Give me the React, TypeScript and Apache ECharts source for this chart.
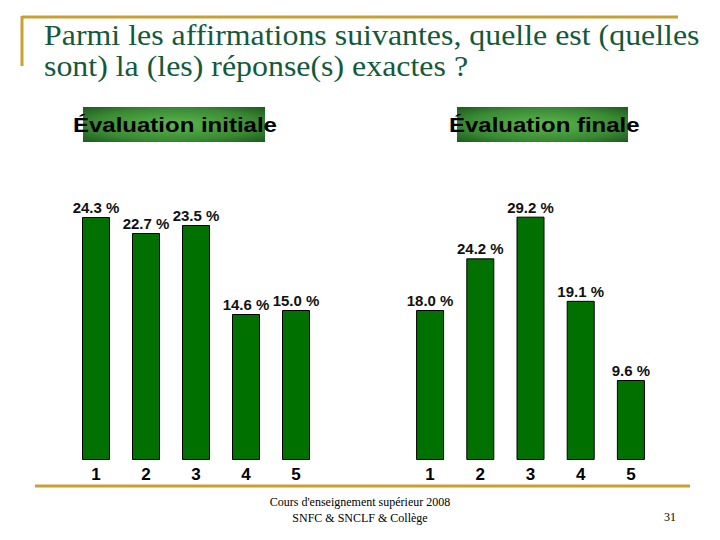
import React, { useEffect, useRef } from "react";
import * as echarts from "echarts";

const categories = ["1", "2", "3", "4", "5"];
const initialValues = [24.3, 22.7, 23.5, 14.6, 15.0];
const finalValues = [18.0, 24.2, 29.2, 19.1, 9.6];
const titleLines = [
  "Parmi les affirmations suivantes, quelle est (quelles",
  "sont) la (les) réponse(s) exactes ?",
];
const panelTitles = ["Évaluation initiale", "Évaluation finale"];
const footerLines = ["Cours d'enseignement supérieur 2008", "SNFC & SNCLF & Collège"];
const pageNumber = "31";

const GOLD = "#c9a032";
const TITLE_GREEN = "#145a3a";
const BAR_GREEN = "#007000";
const SANS = "Arial, 'Liberation Sans', sans-serif";
const SERIF = "'Times New Roman', 'Liberation Serif', serif";

const headerGradient = {
  type: "radial",
  x: 0.5,
  y: 0.5,
  r: 0.75,
  colorStops: [
    { offset: 0, color: "#5cb84c" },
    { offset: 0.6, color: "#3a8a34" },
    { offset: 1, color: "#17501a" },
  ],
};

export default function App() {
  const ref = useRef<HTMLDivElement>(null);
  useEffect(() => {
    if (!ref.current) return;
    const chart = echarts.init(ref.current, null, { renderer: "svg" });
    const label = {
      show: true,
      position: "top",
      distance: 2,
      color: "#111",
      fontFamily: SANS,
      fontWeight: "bold",
      fontSize: 15,
      formatter: (p: any) => `${Number(p.value).toFixed(1)} %`,
    };
    const xAxisCommon = {
      type: "category",
      data: categories,
      axisLine: { show: false },
      axisTick: { show: false },
      axisLabel: { color: "#000", fontFamily: SANS, fontWeight: "bold", fontSize: 17, margin: 6 },
    };
    const yAxisCommon = {
      type: "value",
      min: 0,
      show: false,
      splitLine: { show: false },
    };
    chart.setOption({
      animation: false,
      backgroundColor: "#fff",
      grid: [
        { left: 71, width: 250, top: 160, height: 300 },
        { left: 405, width: 251, top: 160, height: 300 },
      ],
      xAxis: [
        { ...xAxisCommon, gridIndex: 0 },
        { ...xAxisCommon, gridIndex: 1 },
      ],
      yAxis: [
        { ...yAxisCommon, gridIndex: 0, max: 30 },
        { ...yAxisCommon, gridIndex: 1, max: 36 },
      ],
      series: [
        {
          type: "bar",
          xAxisIndex: 0,
          yAxisIndex: 0,
          data: initialValues,
          barWidth: 28,
          itemStyle: { color: BAR_GREEN, borderColor: "#000", borderWidth: 1 },
          label,
        },
        {
          type: "bar",
          xAxisIndex: 1,
          yAxisIndex: 1,
          data: finalValues,
          barWidth: 28,
          itemStyle: { color: BAR_GREEN, borderColor: "#000", borderWidth: 1 },
          label,
        },
      ],
      graphic: [
        { type: "line", shape: { x1: 22, y1: 17, x2: 678, y2: 17 }, style: { stroke: GOLD, lineWidth: 3 } },
        { type: "line", shape: { x1: 22, y1: 16, x2: 22, y2: 66 }, style: { stroke: GOLD, lineWidth: 3 } },
        { type: "line", shape: { x1: 35, y1: 486, x2: 690, y2: 486 }, style: { stroke: GOLD, lineWidth: 3 } },
        {
          type: "text",
          x: 44,
          y: 35,
          scaleX: 1.1,
          style: { text: titleLines[0], fill: TITLE_GREEN, font: `29px ${SERIF}`, textVerticalAlign: "middle" },
        },
        {
          type: "text",
          x: 44,
          y: 66,
          scaleX: 1.1,
          style: { text: titleLines[1], fill: TITLE_GREEN, font: `29px ${SERIF}`, textVerticalAlign: "middle" },
        },
        { type: "rect", shape: { x: 83, y: 107, width: 182, height: 35 }, style: { fill: headerGradient } },
        { type: "rect", shape: { x: 457, y: 107, width: 171, height: 35 }, style: { fill: headerGradient } },
        {
          type: "text",
          x: 73,
          y: 125,
          scaleX: 1.2,
          style: { text: panelTitles[0], fill: "#000", font: `bold 20px ${SANS}`, textVerticalAlign: "middle" },
        },
        {
          type: "text",
          x: 449,
          y: 125,
          scaleX: 1.2,
          style: { text: panelTitles[1], fill: "#000", font: `bold 20px ${SANS}`, textVerticalAlign: "middle" },
        },
        {
          type: "text",
          x: 360,
          y: 502,
          style: { text: footerLines[0], fill: "#000", font: `12px ${SERIF}`, textAlign: "center", textVerticalAlign: "middle" },
        },
        {
          type: "text",
          x: 360,
          y: 518,
          style: { text: footerLines[1], fill: "#000", font: `12px ${SERIF}`, textAlign: "center", textVerticalAlign: "middle" },
        },
        {
          type: "text",
          x: 670,
          y: 517,
          style: { text: pageNumber, fill: "#000", font: `12px ${SERIF}`, textAlign: "center", textVerticalAlign: "middle" },
        },
      ],
    });
    return () => chart.dispose();
  }, []);
  return (
    <div
      ref={ref}
      style={{ position: "fixed", left: 0, top: 0, width: 720, height: 540, background: "#fff" }}
    />
  );
}
